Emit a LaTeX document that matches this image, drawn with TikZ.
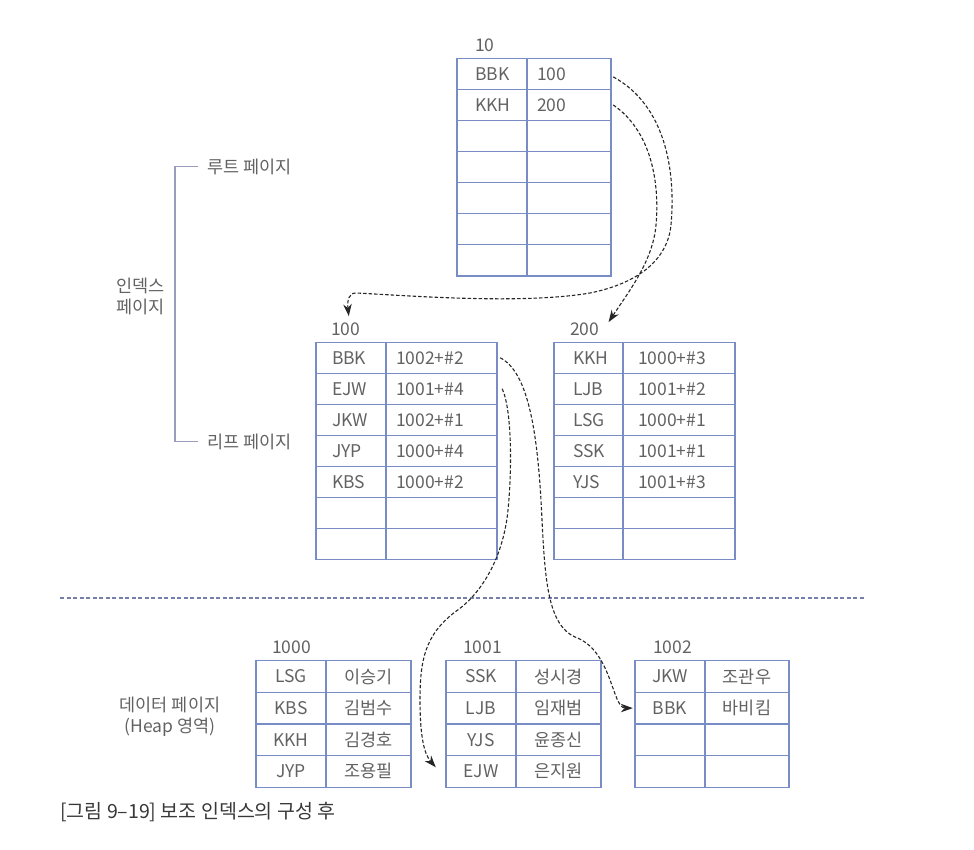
\documentclass[tikz,border=0pt]{standalone}
\usepackage{fontspec}
\setmainfont{Noto Sans CJK KR}
\usepackage{xcolor}
\usepackage{tikz}
\usetikzlibrary{arrows.meta,calc}
\definecolor{pageblue}{RGB}{120,140,198}
\definecolor{inkgray}{RGB}{98,98,98}
\definecolor{sepblue}{RGB}{118,126,172}
\definecolor{bracegray}{RGB}{150,158,188}
\newcommand{\pagegrid}[6]{% left, column, right, top, row height, rows
  \draw[pageline] (#1,#4) rectangle (#3,{#4+#6*#5});
  \draw[pageline] (#2,#4) -- (#2,{#4+#6*#5});
  \foreach \i in {1,...,#6}{\draw[pageline] (#1,{#4+\i*#5}) -- (#3,{#4+\i*#5});}
}

\begin{document}
\begin{tikzpicture}[x=1pt,y=-1pt,>={Stealth[length=12pt,width=8.5pt]},
  every node/.style={font=\fontsize{17.5}{21}\selectfont,text=inkgray,inner sep=0pt},
  pageline/.style={draw=pageblue,line width=1.2pt},
  cell/.style={minimum height=30pt},
  lcell/.style 2 args={cell,text width=#1,inner xsep=#2,align=left},
  ccell/.style={cell,minimum width=#1,align=center},
  link/.style={->,dash pattern=on 3.5pt off 2pt,line width=1.1pt,black!85},
  sepline/.style={draw=sepblue,line width=1.2pt,dash pattern=on 4pt off 2.5pt},
  brace/.style={draw=bracegray,line width=1.2pt}]
\useasboundingbox (0,0) rectangle (974,850);

% root page 10
\pagegrid{457}{527}{611}{58.3}{31.1}{7}
\node[anchor=base west] (p10) at (475,52) {10};
\foreach \i/\k/\v in {1/BBK/100,2/KKH/200}{
  \node[lcell={34pt}{18pt}] (r-\i-k) at (492,{58.3+(\i-0.5)*31.1}) {\k};
  \node[lcell={64pt}{10pt}] (r-\i-v) at (569,{58.3+(\i-0.5)*31.1}) {\v};
}

% leaf pages 100 and 200
\pagegrid{316}{386}{497}{342.3}{31}{7}
\node[anchor=base west] (p100) at (331,335) {100};
\foreach \i/\k/\v in {1/BBK/1002+\#2,2/EJW/1001+\#4,3/JKW/1002+\#1,4/JYP/1000+\#4,5/KBS/1000+\#2}{
  \node[lcell={38pt}{16pt}] (la-\i-k) at (351,{342.3+(\i-0.5)*31}) {\k};
  \node[lcell={91pt}{10pt}] (la-\i-v) at (441.5,{342.3+(\i-0.5)*31}) {\v};
}
\pagegrid{554}{623}{735}{342.3}{31}{7}
\node[anchor=base west] (p200) at (570,335) {200};
\foreach \i/\k/\v in {1/KKH/1000+\#3,2/LJB/1001+\#2,3/LSG/1000+\#1,4/SSK/1001+\#1,5/YJS/1001+\#3}{
  \node[lcell={31pt}{19pt}] (lb-\i-k) at (588.5,{342.3+(\i-0.5)*31}) {\k};
  \node[lcell={82pt}{15pt}] (lb-\i-v) at (679,{342.3+(\i-0.5)*31}) {\v};
}

% side labels
\node[anchor=west] (rootlab) at (207,166.7) {루트 페이지};
\node[anchor=west] (leaflab) at (207,441.7) {리프 페이지};
\draw[brace] ([xshift=-9pt]rootlab.west) -- ++(-23,0) |- ([xshift=-9pt]leaflab.west);
\node[align=center] (idxlab) at (140.5,296) {인덱스\\페이지};
\node[align=center] (heaplab) at (170,717) {데이터 페이지\\(Heap 영역)};

\draw[sepline] (60,598) -- (865,598);

% data pages 1000, 1001, 1002
\pagegrid{256}{326}{411}{660.7}{31.6}{4}
\node[anchor=base west] (p1000) at (272,653) {1000};
\foreach \i/\k/\v in {1/LSG/이승기,2/KBS/김범수,3/KKH/김경호,4/JYP/조용필}{
  \node[ccell=70pt] (d0-\i-k) at (291,{660.7+(\i-0.5)*31.6}) {\k};
  \node[ccell=85pt] (d0-\i-v) at (368.5,{660.7+(\i-0.5)*31.6}) {\v};
}
\pagegrid{446}{516}{601}{660.7}{31.6}{4}
\node[anchor=base west] (p1001) at (463,653) {1001};
\foreach \i/\k/\v in {1/SSK/성시경,2/LJB/임재범,3/YJS/윤종신,4/EJW/은지원}{
  \node[ccell=70pt] (d1-\i-k) at (481,{660.7+(\i-0.5)*31.6}) {\k};
  \node[ccell=85pt] (d1-\i-v) at (558.5,{660.7+(\i-0.5)*31.6}) {\v};
}
\pagegrid{635}{705}{789}{660.7}{31.6}{4}
\node[anchor=base west] (p1002) at (653,653) {1002};
\foreach \i/\k/\v in {1/JKW/조관우,2/BBK/바비킴}{
  \node[ccell=70pt] (d2-\i-k) at (670,{660.7+(\i-0.5)*31.6}) {\k};
  \node[ccell=84pt] (d2-\i-v) at (747,{660.7+(\i-0.5)*31.6}) {\v};
}

% pointers
\draw[link] ([xshift=2pt,yshift=-3pt]r-1-v.east) .. controls (665,105) and (676,170) .. (671,225)
  .. controls (667,265) and (630,285) .. (590,293) .. controls (520,305) and (400,295) .. (356,293)
  .. controls (349,293) and (347,300) .. ([xshift=3pt,yshift=6pt]p100.north);
\draw[link] ([xshift=2pt]r-2-v.east) .. controls (650,130) and (660,180) .. (656,225)
  .. controls (653,260) and (630,290) .. ([xshift=9pt]p200.north east);
\draw[link] ([xshift=3pt]la-1-v.east) .. controls (528,372) and (538,430) .. (542,520)
  .. controls (545,580) and (548,625) .. (575,637) .. controls (612,650) and (612,708) .. ([xshift=-2pt]d2-2-k.west);
\draw[link] ([xshift=5pt]la-2-v.east) .. controls (512,410) and (512,470) .. (508,510)
  .. controls (503,560) and (480,595) .. (455,612) .. controls (425,635) and (420,660) .. (420,700)
  .. controls (420,740) and (425,755) .. ([xshift=-10pt,yshift=4pt]d1-4-k.west);

\node[anchor=west,text=black!78,font=\fontsize{19.5}{22}\selectfont] (caption) at (60,811.7) {[그림 9–19] 보조 인덱스의 구성 후};
\end{tikzpicture}
\end{document}
